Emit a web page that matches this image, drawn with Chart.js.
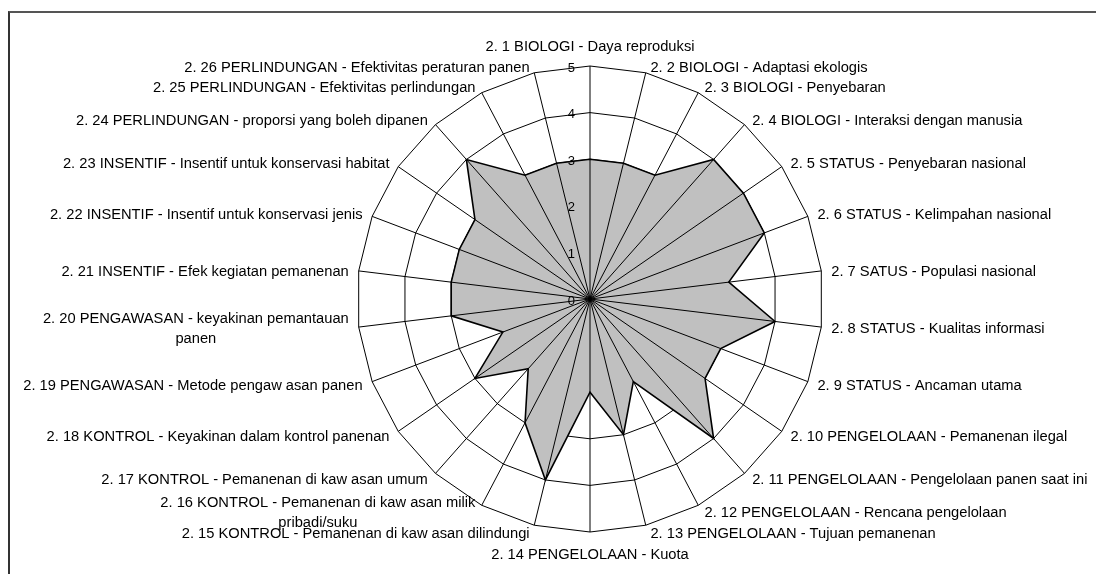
<!DOCTYPE html>
<html>
<head>
<meta charset="utf-8">
<script src="https://cdn.jsdelivr.net/npm/chart.js@4"></script>
<style>
  html, body { margin: 0; padding: 0; background: #fff; }
  #wrap { position: relative; width: 1096px; height: 574px; overflow: hidden; }
  #frame { position: absolute; left: 8px; top: 11px; width: 1100px; height: 600px;
           border-top: 2px solid #555; border-left: 2px solid #333; box-sizing: border-box; }
  canvas { position: absolute; left: 0; top: 0; }
</style>
</head>
<body>
<div id="wrap">
  <div id="frame"></div>
  <canvas id="radar" width="1096" height="574"></canvas>
</div>
<script>
// categories, clockwise from the top
var categories = [
    '2. 1 BIOLOGI - Daya reproduksi',
    '2. 2 BIOLOGI - Adaptasi ekologis',
    '2. 3 BIOLOGI - Penyebaran',
    '2. 4 BIOLOGI - Interaksi dengan manusia',
    '2. 5 STATUS - Penyebaran nasional',
    '2. 6 STATUS - Kelimpahan nasional',
    '2. 7 SATUS - Populasi nasional',
    '2. 8 STATUS - Kualitas informasi',
    '2. 9 STATUS - Ancaman utama',
    '2. 10 PENGELOLAAN - Pemanenan ilegal',
    '2. 11 PENGELOLAAN - Pengelolaan panen saat ini',
    '2. 12 PENGELOLAAN - Rencana pengelolaan',
    '2. 13 PENGELOLAAN - Tujuan pemanenan',
    '2. 14 PENGELOLAAN - Kuota',
    '2. 15 KONTROL - Pemanenan di kaw asan dilindungi',
    ['2. 16 KONTROL - Pemanenan di kaw asan milik', 'pribadi/suku'],
    '2. 17 KONTROL - Pemanenan di kaw asan umum',
    '2. 18 KONTROL - Keyakinan dalam kontrol panenan',
    '2. 19 PENGAWASAN - Metode pengaw asan panen',
    ['2. 20 PENGAWASAN - keyakinan pemantauan', 'panen'],
    '2. 21 INSENTIF - Efek kegiatan pemanenan',
    '2. 22 INSENTIF - Insentif untuk konservasi jenis',
    '2. 23 INSENTIF - Insentif untuk konservasi habitat',
    '2. 24 PERLINDUNGAN - proporsi yang boleh dipanen',
    '2. 25 PERLINDUNGAN - Efektivitas perlindungan',
    '2. 26 PERLINDUNGAN - Efektivitas peraturan panen'
];
var scores = [3, 3, 3, 4, 4, 4, 3, 4, 3, 3, 4, 2, 3, 2, 4, 3, 2, 3, 2, 3, 3, 3, 3, 4, 3, 3];
var tickValues = [0, 1, 2, 3, 4, 5];

const FONT = '"Liberation Sans", Arial, sans-serif';

// spokes go over the grey fill (rings stay underneath), as in the original
const spokesPlugin = {
    id: 'spokes',
    afterDatasetsDraw(chart) {
        const scale = chart.scales.r;
        const ctx = chart.ctx;
        ctx.save();
        ctx.strokeStyle = '#000';
        ctx.lineWidth = 1;
        categories.forEach((lab, i) => {
            const p = scale.getPointPosition(i, scale.drawingArea);
            ctx.beginPath();
            ctx.moveTo(scale.xCenter, scale.yCenter);
            ctx.lineTo(p.x, p.y);
            ctx.stroke();
        });
        ctx.restore();
    }
};

// tick numbers sit just left of the vertical axis
const tickLabelsPlugin = {
    id: 'tickLabels',
    afterDraw(chart) {
        const scale = chart.scales.r;
        const ctx = chart.ctx;
        ctx.save();
        ctx.font = '13px ' + FONT;
        ctx.fillStyle = '#000';
        ctx.textAlign = 'right';
        ctx.textBaseline = 'middle';
        tickValues.forEach((v) => {
            const p = scale.getPointPositionForValue(0, v);
            ctx.fillText(String(v), p.x - 15, p.y + 2);
        });
        ctx.restore();
    }
};

// category labels placed the way the spreadsheet does it (outside the outer ring)
const pointLabelsPlugin = {
    id: 'catLabels',
    afterDraw(chart) {
        const scale = chart.scales.r;
        const ctx = chart.ctx;
        const R = scale.drawingArea;
        const lineH = 20;
        ctx.save();
        ctx.font = '14.7px ' + FONT;
        ctx.fillStyle = '#000';
        ctx.textBaseline = 'middle';
        categories.forEach((lab, i) => {
            const lines = Array.isArray(lab) ? lab : [lab];
            const p = scale.getPointPosition(i, R);
            const s = (p.x - scale.xCenter) / R;
            const c = (scale.yCenter - p.y) / R;
            const w = Math.max(...lines.map(l => ctx.measureText(l).width));
            let midY = p.y + 1.5 - 7 * c;
            let left;
            if (Math.abs(s) < 0.05) {
                left = p.x - w / 2;
                midY += c > 0 ? -14 : 14;
            } else if (s > 0) {
                left = p.x + 3 + 7 * s;
            } else {
                left = p.x - 3 + 7 * s - w;
            }
            const top = midY - (lines.length - 1) * lineH / 2;
            ctx.textAlign = 'center';
            lines.forEach((l, k) => {
                ctx.fillText(l, left + w / 2, top + k * lineH);
            });
        });
        ctx.restore();
    }
};

const ctx = document.getElementById('radar').getContext('2d');
const config = {
    type: 'radar',
    data: {
        labels: categories,
        datasets: [{
            label: 'Skor',
            data: scores,
            backgroundColor: '#c0c0c0',
            borderColor: '#000',
            borderWidth: 1.6,
            pointRadius: 0,
            fill: true
        }]
    },
    options: {
        responsive: false,
        animation: false,
        // puts the web centre at (590, 299) with a 233px outer radius
        layout: { padding: { left: 357, right: 273, top: 66, bottom: 42 } },
        plugins: {
            legend: { display: false },
            tooltip: { enabled: false }
        },
        elements: { line: { tension: 0 } },
        scales: {
            r: {
                min: 0,
                max: 5,
                ticks: { stepSize: 1, display: false },
                grid: { color: '#000', lineWidth: 1 },
                angleLines: { display: false },
                pointLabels: { display: false }
            }
        }
    },
    plugins: [spokesPlugin, tickLabelsPlugin, pointLabelsPlugin]
};
new Chart(ctx, config);
</script>
</body>
</html>
